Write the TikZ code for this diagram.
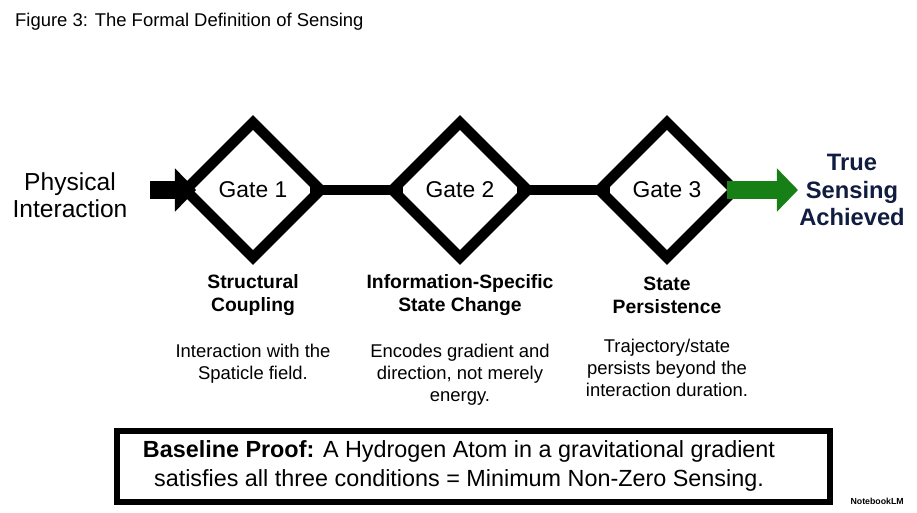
\documentclass[tikz,border=0pt]{standalone}
\usepackage{fontspec}
\setmainfont{Liberation Sans}
\usetikzlibrary{positioning,arrows.meta,shapes.geometric}
\definecolor{navy}{RGB}{16,28,64}
\definecolor{arrowgreen}{RGB}{22,128,22}
\tikzset{
  gate/.style={draw,line width=6pt,minimum width=2.7cm,minimum height=2.7cm,
    inner sep=0pt,outer sep=0pt,shape=diamond,font=\fontsize{13}{15}\selectfont},
  head/.style={font=\bfseries\fontsize{11}{13}\selectfont,align=center},
  desc/.style={font=\fontsize{10.5}{12.5}\selectfont,align=center},
  link/.style={line width=6pt,shorten <=-6pt,shorten >=-6pt},
  bigarrow/.style={-{Triangle[length=12pt,width=24pt]},line width=10pt}
}
\begin{document}
\begin{tikzpicture}[x=0.02cm,y=-0.02cm]
  \useasboundingbox (0,0) rectangle (917,512);
  \node[anchor=west,font=\fontsize{10.5}{13}\selectfont] (title) at (9,22) {Figure 3: The Formal Definition of Sensing};
  % gates
  \node[gate] (g1) at (253,190) {Gate 1};
  \node[gate] (g2) at (460,190) {Gate 2};
  \node[gate] (g3) at (667,190) {Gate 3};
  \draw[link] (g1.east) -- (g2.west);
  \draw[link] (g2.east) -- (g3.west);
  % input and output
  \node[align=center,font=\fontsize{14}{15.5}\selectfont] (phys) at (70,195) {Physical\\Interaction};
  \coordinate (in) at (150,190);
  \draw[bigarrow,shorten >=-6pt] (in) -- (g1.west);
  \node[align=center,text=navy,font=\bfseries\fontsize{13.5}{15.5}\selectfont] (goal) at (852,190) {True\\Sensing\\Achieved};
  \coordinate (out) at (798,190);
  \draw[bigarrow,arrowgreen,shorten <=-4pt] (g3.east) -- (out);
  % labels
  \node[head] (h1) at (253,295) {Structural\\Coupling};
  \node[head] (h2) at (460,295) {Information-Specific\\State Change};
  \node[head] (h3) at (667,295) {State\\Persistence};
  \node[desc,anchor=north] (d1) at (253,338) {Interaction with the\\Spaticle field.};
  \node[desc,anchor=north] (d2) at (460,338) {Encodes gradient and\\direction, not merely\\energy.};
  \node[desc,anchor=north] (d3) at (667,333) {Trajectory/state\\persists beyond the\\interaction duration.};
  % proof box
  \draw[line width=3pt] (117,431) rectangle (830,502);
  \node[align=center,font=\fontsize{13.3}{16.5}\selectfont] (proof) at (459,466)
    {\textbf{Baseline Proof:} A Hydrogen Atom in a gravitational gradient\\satisfies all three conditions = Minimum Non-Zero Sensing.};
  \node[anchor=east,font=\bfseries\fontsize{5}{6}\selectfont] (logo) at (910,501) {NotebookLM};
\end{tikzpicture}
\end{document}
